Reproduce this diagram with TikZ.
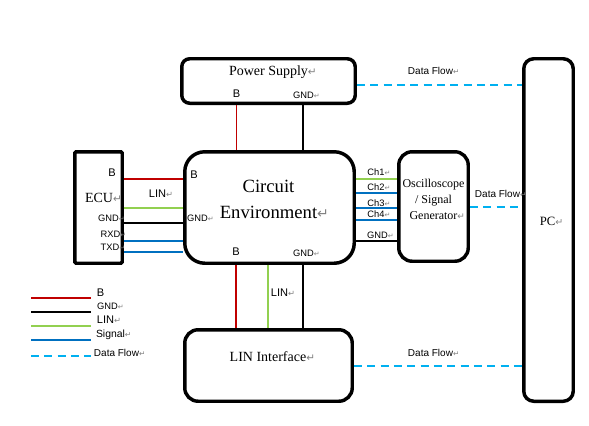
\documentclass[tikz,border=0pt]{standalone}
\usepackage{fontspec}
\setmainfont{Liberation Serif}
\setsansfont{Liberation Sans}
\newfontfamily\dejavu{DejaVu Sans}
\usepackage{graphicx}
\usetikzlibrary{calc}

\definecolor{wirered}{HTML}{C00000}
\definecolor{wiregreen}{HTML}{92D050}
\definecolor{wireblue}{HTML}{0070C0}
\definecolor{flowblue}{HTML}{00B0F0}

\newcommand{\pmark}{\rlap{\textcolor{gray}{\dejavu\scalebox{0.75}{↵}}}}

\tikzstyle{block} = [draw, line width=2.6pt, inner sep=0pt]
\tikzstyle{redwire} = [line width=1.4pt, wirered]
\tikzstyle{gndwire} = [line width=1.1pt, black]
\tikzstyle{linwire} = [line width=1.4pt, wiregreen]
\tikzstyle{sigwire} = [line width=1.4pt, wireblue]
\tikzstyle{flowline} = [line width=1.5pt, flowblue, dash pattern=on 6pt off 4pt]
\tikzstyle{boxtext} = [font=\fontsize{10.5}{12.6}\selectfont, align=center, inner sep=0pt]
\tikzstyle{pintext} = [font=\sffamily\fontsize{7}{8.4}\selectfont, inner sep=0pt]
\tikzstyle{bigpin} = [font=\sffamily\fontsize{8.3}{10}\selectfont, inner sep=0pt]

\begin{document}
\begin{tikzpicture}[x=0.75pt, y=-0.75pt]
  \useasboundingbox (0,0) rectangle (589,425);

  % Power Supply
  \path (268.5,81) node[block, rounded corners=6pt, minimum width=130.1pt, minimum height=33.4pt] (ps) {};
  \path (268.5,72) node[boxtext] (pslabel) {Power Supply\pmark};
  \path (236.5,94) node[bigpin] (psb) {B};
  \path (303.5,95) node[pintext] (psgnd) {GND\pmark};

  % Circuit Environment
  \path (269.5,207.5) node[block, rounded corners=15pt, minimum width=127.1pt, minimum height=83.6pt] (ce) {};
  \path (268.5,199) node[boxtext, font=\fontsize{14}{19.5}\selectfont] (celabel) {Circuit\\Environment\pmark};
  \path (194,175) node[bigpin] (ceb) {B};
  \path (197.5,218) node[pintext] (cegnd) {GND\pmark};
  \path (236,252) node[bigpin] (cebotb) {B};
  \path (303.5,253) node[pintext] (cebotgnd) {GND\pmark};

  % ECU
  \path (98.5,207.5) node[block, rounded corners=1pt, minimum width=35.6pt, minimum height=83.6pt] (ecu) {};
  \path (99,198) node[boxtext] (eculabel) {ECU\pmark};
  \path (112,173) node[bigpin] (ecub) {B};
  \path (108.5,218) node[pintext] (ecugnd) {GND\pmark};
  \path (110.5,234) node[pintext] (ecurxd) {RXD\pmark};
  \path (110,247) node[pintext] (ecutxd) {TXD\pmark};
  \path (157.5,194) node[bigpin] (eculin) {LIN\pmark};

  % Oscilloscope / Signal Generator
  \path (433.5,206.5) node[block, rounded corners=10pt, minimum width=52.1pt, minimum height=82.1pt] (osc) {};
  \path (433.5,199) node[boxtext, font=\fontsize{9}{12}\selectfont] (osclabel) {Oscilloscope\\/ Signal\\Generator\pmark};
  \foreach \n/\y in {1/172, 2/187, 3/203, 4/214}
    \path (376,\y) node[pintext] (ch\n) {Ch\n\pmark};
  \path (377.5,235) node[pintext] (oscgnd) {GND\pmark};

  % PC
  \path (548.5,230) node[block, rounded corners=7.5pt, minimum width=37.1pt, minimum height=256.9pt] (pc) {};
  \path (547.5,221) node[boxtext, font=\fontsize{9.5}{11.4}\selectfont] (pclabel) {PC\pmark};

  % LIN Interface
  \path (268.5,365.5) node[block, rounded corners=10pt, minimum width=125.6pt, minimum height=53.6pt] (li) {};
  \path (268,357) node[boxtext] (lilabel) {LIN Interface\pmark};
  \path (279.5,293) node[bigpin] (lilin) {LIN\pmark};

  % wires PS - CE
  \draw[redwire] (ps.south -| 236.5,0) -- (ce.north -| 236.5,0);
  \draw[gndwire] (ps.south -| 303,0) -- (ce.north -| 303,0);

  % wires ECU - CE
  \foreach \y/\w in {179/redwire, 208/linwire, 223/gndwire, 241/sigwire, 252/sigwire}
    \draw[\w] (ecu.east |- 0,\y) -- (ce.west |- 0,\y);

  % wires CE - oscilloscope
  \foreach \y/\w in {179/linwire, 193/sigwire, 208/sigwire, 220/sigwire, 241/gndwire}
    \draw[\w] (ce.east |- 0,\y) -- (osc.west |- 0,\y);

  % wires CE - LIN Interface
  \foreach \x/\w in {236/redwire, 268/linwire, 303/gndwire}
    \draw[\w] (ce.south -| \x,0) -- (li.north -| \x,0);

  % data flow
  \draw[flowline] (ps.east |- 0,85) -- (pc.west |- 0,85);
  \draw[flowline] (osc.east |- 0,207) -- (pc.west |- 0,207);
  \draw[flowline] (li.east |- 0,366) -- (pc.west |- 0,366);
  \path (430.5,71) node[pintext, font=\sffamily\fontsize{7.5}{9}\selectfont] (flowtop) {Data Flow\pmark};
  \path (497.5,194) node[pintext, font=\sffamily\fontsize{7.5}{9}\selectfont] (flowmid) {Data Flow\pmark};
  \path (430.5,353) node[pintext, font=\sffamily\fontsize{7.5}{9}\selectfont] (flowbot) {Data Flow\pmark};

  % legend
  \foreach \y/\w in {298/redwire, 312/gndwire, 326/linwire, 340/sigwire, 356/flowline}
    \draw[\w] (31,\y) -- (91,\y);
  \path (100.5,293) node[bigpin] (legb) {B};
  \path (107.5,306) node[pintext] (leggnd) {GND\pmark};
  \path (105.5,320) node[bigpin] (leglin) {LIN\pmark};
  \path (110.5,335) node[pintext, font=\sffamily\fontsize{7.8}{9}\selectfont] (legsig) {Signal\pmark};
  \path (116.5,353) node[pintext, font=\sffamily\fontsize{7.5}{9}\selectfont] (legflow) {Data Flow\pmark};
\end{tikzpicture}
\end{document}
